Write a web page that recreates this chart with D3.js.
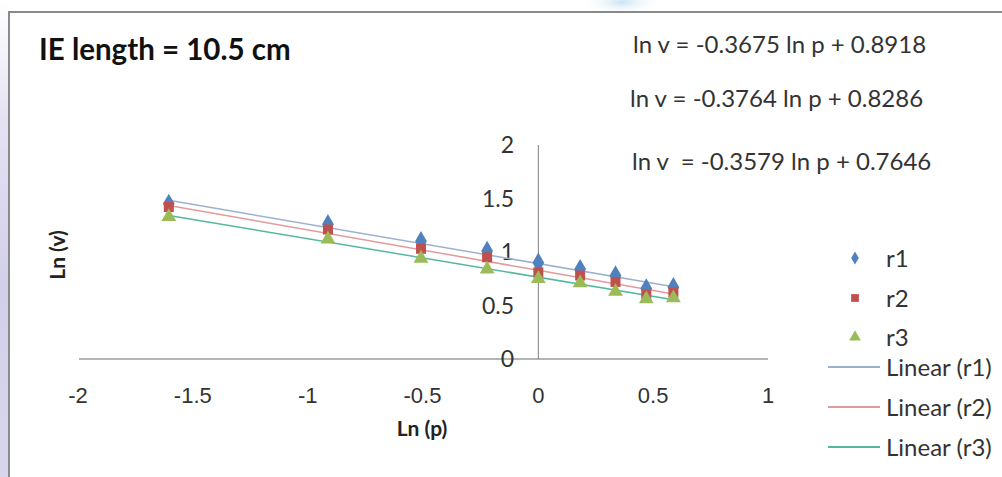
<!DOCTYPE html>
<html><head><meta charset="utf-8">
<script src="https://cdn.jsdelivr.net/npm/d3@7"></script>
<style>html,body{margin:0;padding:0;background:#fff;}svg{display:block;}</style>
</head><body>
<svg id="chart" width="1002" height="477"></svg>
<script>
// ---- data ----
const lnP = [-1.609, -0.916, -0.511, -0.223, 0, 0.182, 0.336, 0.47, 0.588];
const r1 = [1.45, 1.26, 1.10, 1.01, 0.90, 0.84, 0.78, 0.66, 0.67];
const r2 = [1.42, 1.21, 1.03, 0.95, 0.81, 0.78, 0.72, 0.60, 0.62];
const r3 = [1.33, 1.12, 0.94, 0.84, 0.75, 0.71, 0.63, 0.56, 0.57];
const seriesNames = ["r1", "r2", "r3"];
const slopes = [-0.3675, -0.3764, -0.3579];
const intercepts = [0.8918, 0.8286, 0.7646];
const equationLabels = ["ln v = -0.3675 ln p + 0.8918", "ln v = -0.3764 ln p + 0.8286", "ln v  = -0.3579 ln p + 0.7646"];
const xTicks = [-2, -1.5, -1, -0.5, 0, 0.5, 1];
const yTicks = [0, 0.5, 1, 1.5, 2];
const titleText = "IE length = 10.5 cm";

const svg = d3.select("#chart");
const FONT = "Lato, 'Open Sans', sans-serif";
const fmt = d => String(d); // plain hyphen minus

// background stripe & frame
const defs = svg.append("defs");
const g1 = defs.append("linearGradient").attr("id","stripe").attr("x1",0).attr("y1",0).attr("x2",0).attr("y2",1);
g1.append("stop").attr("offset","0%").attr("stop-color","#ffffff");
g1.append("stop").attr("offset","25%").attr("stop-color","#e4e2f2");
g1.append("stop").attr("offset","60%").attr("stop-color","#d2cfea");
g1.append("stop").attr("offset","100%").attr("stop-color","#d8d6ee");
svg.append("rect").attr("x",0).attr("y",0).attr("width",8).attr("height",477).attr("fill","url(#stripe)");
const rg = defs.append("radialGradient").attr("id","blob");
rg.append("stop").attr("offset","0%").attr("stop-color","#c9e3f2");
rg.append("stop").attr("offset","100%").attr("stop-color","#ffffff").attr("stop-opacity",0);
svg.append("ellipse").attr("cx",622).attr("cy",2).attr("rx",40).attr("ry",14).attr("fill","url(#blob)");
svg.append("path").attr("d","M9,477 V12 H1002").attr("fill","none").attr("stroke","#8a8a8a").attr("stroke-width",2);

// scales
const x = d3.scaleLinear().domain([-2, 1]).range([79, 768]);
const y = d3.scaleLinear().domain([0, 2]).range([359, 145]);

// x axis line
svg.append("line").attr("x1", x(-2)).attr("x2", x(1)).attr("y1", y(0)).attr("y2", y(0))
  .attr("stroke", "#b4b4b4").attr("stroke-width", 2);
// y axis line
svg.append("line").attr("x1", x(0)).attr("x2", x(0)).attr("y1", y(2)).attr("y2", y(0))
  .attr("stroke", "#808080").attr("stroke-width", 1);

// x tick labels
svg.append("g").selectAll("text").data(xTicks).join("text")
  .attr("x", d => x(d) + (d < 0 ? -1 : 0)).attr("y", 403)
  .attr("text-anchor", "middle")
  .attr("font-family", "'Liberation Sans', Arial, sans-serif").attr("font-size", 22).attr("fill", "#333")
  .text(fmt);
// y tick labels
svg.append("g").selectAll("text").data(yTicks).join("text")
  .attr("x", 514).attr("y", d => y(d)).attr("dy", "0.36em")
  .attr("text-anchor", "end")
  .attr("font-family", FONT).attr("font-size", 23).attr("fill", "#333")
  .text(fmt);

// axis titles
svg.append("text").attr("x", 422).attr("y", 436).attr("text-anchor", "middle")
  .attr("font-family", FONT).attr("font-weight", "bold").attr("font-size", 21).attr("fill", "#222").text("Ln (p)");
svg.append("text").attr("transform", "translate(65,255) rotate(-90)").attr("text-anchor", "middle")
  .attr("font-family", FONT).attr("font-weight", "bold").attr("font-size", 21).attr("fill", "#222").text("Ln (v)");

// title
svg.append("text").attr("x", 39).attr("y", 60).attr("font-family", FONT).attr("font-weight", "bold")
  .attr("font-size", 29.5).attr("fill", "#111").text(titleText);

// equations
const eqY = [53, 107, 170];
const eqX = [633, 630, 632];
svg.append("g").selectAll("text").data(equationLabels).join("text")
  .attr("x", (d,i) => eqX[i]).attr("y", (d,i) => eqY[i])
  .attr("font-family", FONT).attr("font-size", 24).attr("fill", "#333")
  .style("white-space","pre")
  .text(d => d);

// trendlines
const markerColors = ["#4f81bd", "#c0504d", "#9bbb59"];
const lineColors = ["#9db1cf", "#e49a9a", "#55b89e"];
const xMin = d3.min(lnP), xMax = d3.max(lnP);
const lineGen = d3.line().x(d => x(d[0])).y(d => y(d[1]));
slopes.forEach((m, i) => {
  const pts = [[xMin, m * xMin + intercepts[i]], [xMax, m * xMax + intercepts[i]]];
  svg.append("path").attr("d", lineGen(pts)).attr("fill", "none")
    .attr("stroke", lineColors[i]).attr("stroke-width", 1.5);
});

// markers
const allSeries = [r1, r2, r3];
const symbols = [d3.symbolDiamond, d3.symbolSquare, d3.symbolTriangle];
const sizes = [120, 100, 95];
allSeries.forEach((vals, i) => {
  svg.append("g").selectAll("path").data(vals).join("path")
    .attr("transform", (d, j) => `translate(${x(lnP[j])},${y(d)})`)
    .attr("d", d3.symbol().type(symbols[i]).size(sizes[i]))
    .attr("fill", markerColors[i]);
});

// legend
const legY = [258, 298, 337];
const leg = svg.append("g");
seriesNames.forEach((n, i) => {
  leg.append("path").attr("transform", `translate(855,${legY[i]})`)
    .attr("d", d3.symbol().type(symbols[i]).size(i === 0 ? 50 : 60)).attr("fill", markerColors[i]);
  leg.append("text").attr("x", 886).attr("y", legY[i]).attr("dy", "0.36em")
    .attr("font-family", FONT).attr("font-size", 24).attr("fill", "#333").text(n);
});
const legLY = [367, 407, 447];
seriesNames.forEach((n, i) => {
  leg.append("line").attr("x1", 828).attr("x2", 880).attr("y1", legLY[i]).attr("y2", legLY[i])
    .attr("stroke", lineColors[i]).attr("stroke-width", 2);
  leg.append("text").attr("x", 886).attr("y", legLY[i]).attr("dy", "0.36em")
    .attr("font-family", FONT).attr("font-size", 24).attr("fill", "#333").text(`Linear (${n})`);
});
</script>
</body></html>
